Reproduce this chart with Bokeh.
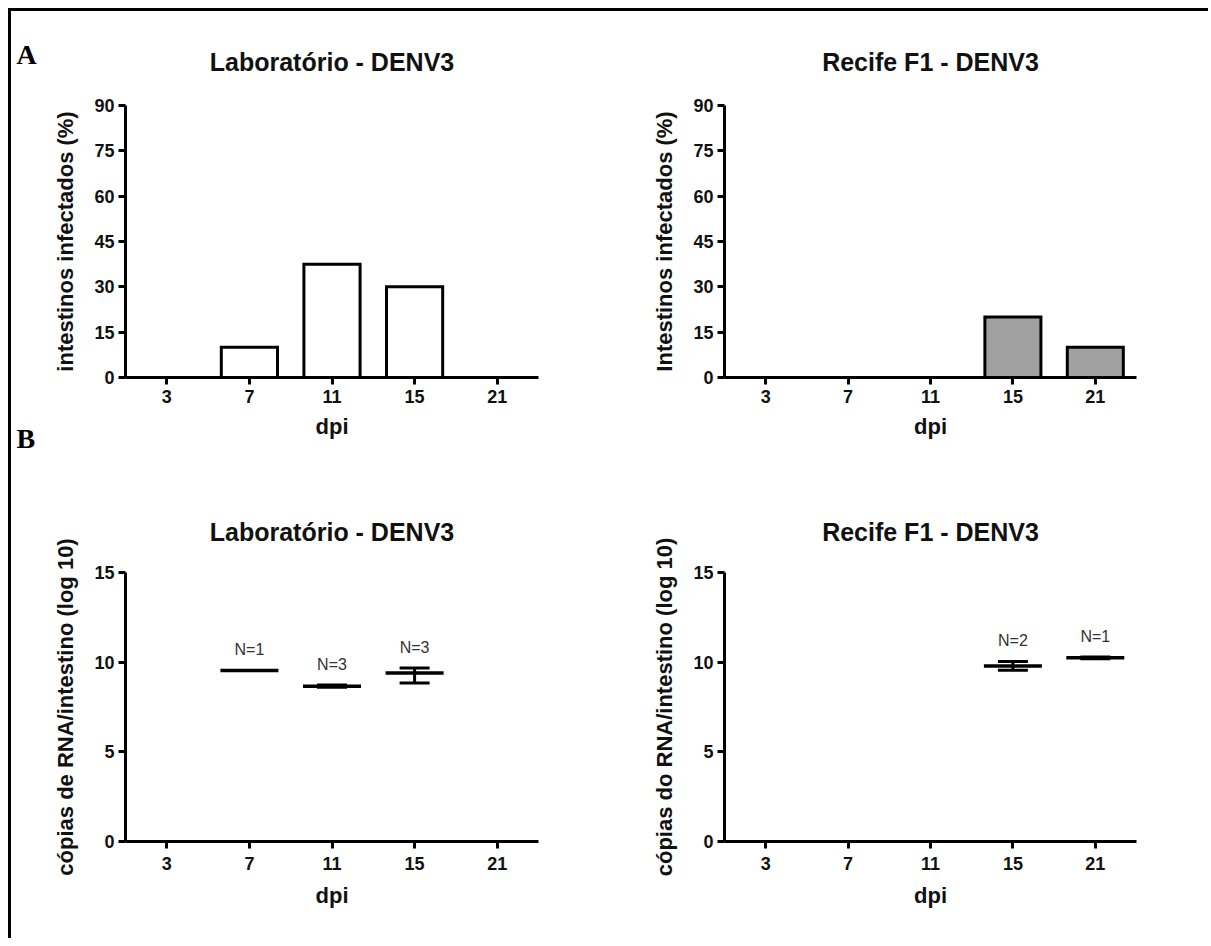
from bokeh.plotting import figure
from bokeh.models import (FactorRange, Range1d, FixedTicker, Whisker, TeeHead,
                          ColumnDataSource, Label, Spacer)
from bokeh.layouts import column, row
from bokeh.core.properties import value
from bokeh.embed import file_html
from bokeh.resources import INLINE

# ---------------- data ----------------
dpi = ["3", "7", "11", "15", "21"]

lab_title = "Laboratório - DENV3"
rec_title = "Recife F1 - DENV3"

lab_pct = [0, 10, 37.5, 30, 0]
rec_pct = [0, 0, 0, 20, 10]

lab_rna_dpi = ["7", "11", "15"]
lab_rna_mid = [9.54, 8.66, 9.40]
lab_rna_low = [9.54, 8.60, 8.84]
lab_rna_high = [9.54, 8.72, 9.68]
lab_rna_n = ["N=1", "N=3", "N=3"]

rec_rna_dpi = ["15", "21"]
rec_rna_mid = [9.79, 10.24]
rec_rna_low = [9.55, 10.19]
rec_rna_high = [10.04, 10.29]
rec_rna_n = ["N=2", "N=1"]

pct_ticks = [0, 15, 30, 45, 60, 75, 90]
rna_ticks = [0, 5, 10, 15]

panel_letters = ["A", "B"]

FONT = "Liberation Sans"
INK = "#111111"
LETTER_W = 30


def base_fig(title, ylabel, ymax, yticks, fw, fh, bl, br, bt, bb, tstand,
             xl_stand, xa_stand):
    p = figure(x_range=FactorRange(factors=dpi, range_padding=0),
               y_range=Range1d(0, ymax),
               frame_width=fw, frame_height=fh,
               min_border_left=bl, min_border_right=br,
               min_border_top=bt, min_border_bottom=bb,
               output_backend="svg", toolbar_location=None,
               background_fill_color="white", border_fill_color="white")
    p.outline_line_color = None
    p.xgrid.visible = False
    p.ygrid.visible = False
    p.title.text = title
    p.title.align = "center"
    p.title.text_font = FONT
    p.title.text_font_style = "bold"
    p.title.text_font_size = "25px"
    p.title.text_color = INK
    p.title.standoff = tstand
    p.xaxis.axis_label = "dpi"
    p.yaxis.axis_label = ylabel
    p.yaxis.ticker = FixedTicker(ticks=yticks)
    for ax in (p.xaxis[0], p.yaxis[0]):
        ax.axis_line_width = 3
        ax.axis_line_color = "black"
        ax.major_tick_line_width = 3
        ax.major_tick_line_color = "black"
        ax.major_tick_out = 7
        ax.major_tick_in = 0
        ax.minor_tick_out = 0
        ax.minor_tick_in = 0
        ax.major_label_text_font = FONT
        ax.major_label_text_font_style = "bold"
        ax.major_label_text_font_size = "18px"
        ax.major_label_text_color = INK
        ax.axis_label_text_font = FONT
        ax.axis_label_text_font_style = "bold"
        ax.axis_label_text_font_size = "22px"
        ax.axis_label_text_color = INK
    p.yaxis.major_label_standoff = 4
    p.xaxis.major_label_standoff = xl_stand
    p.xaxis.axis_label_standoff = xa_stand
    p.yaxis.axis_label_standoff = 13
    return p


def bar_fig(title, ylabel, pct, fill, fw, bl, br):
    p = base_fig(title, ylabel, 90, pct_ticks, fw, 272, bl, br, 94, 93, 60, 5, 8)
    p.vbar(x=dpi, top=pct, width=0.68, fill_color=fill,
           line_color="black", line_width=3, line_join="miter")
    return p


def rna_fig(title, ylabel, xs, mid, low, high, ns, fw, bl, br):
    p = base_fig(title, ylabel, 15, rna_ticks, fw, 269, bl, br, 102, 97, 53, 8, 10)
    src = ColumnDataSource(dict(x=xs, mid=mid, low=low, high=high, n=ns))
    p.add_layout(Whisker(base="x", upper="high", lower="low", source=src,
                         line_width=3, line_color="black",
                         upper_head=TeeHead(size=30, line_width=3, line_color="black"),
                         lower_head=TeeHead(size=30, line_width=3, line_color="black")))
    p.scatter(x="x", y="mid", source=src, marker="dash", size=58,
              line_width=3.5, line_color="black")
    p.text(x="x", y="high", text="n", source=src, text_align="center",
           text_baseline="bottom", y_offset=-12, text_font=value(FONT),
           text_font_size="16px", text_color="#333333")
    return p


p1 = bar_fig(lab_title, "intestinos infectados (%)", lab_pct, "white", 413, 114 - LETTER_W, 70)
p2 = bar_fig(rec_title, "Intestinos infectados (%)", rec_pct, "#a1a1a1", 412, 116, 67)
p3 = rna_fig(lab_title, "cópias de RNA/intestino (log 10)", lab_rna_dpi, lab_rna_mid,
             lab_rna_low, lab_rna_high, lab_rna_n, 413, 114 - LETTER_W, 70)
p4 = rna_fig(rec_title, "cópias do RNA/intestino (log 10)", rec_rna_dpi, rec_rna_mid,
             rec_rna_low, rec_rna_high, rec_rna_n, 412, 116, 67)

# narrow strip holding the panel letters (y measured from the top, in px)
letters = figure(width=LETTER_W, height=927, x_range=Range1d(0, LETTER_W),
                 y_range=Range1d(927, 0), x_axis_type=None, y_axis_type=None,
                 min_border=0, output_backend="svg", toolbar_location=None,
                 background_fill_color="white", border_fill_color="white")
letters.outline_line_color = None
letters.xgrid.visible = False
letters.ygrid.visible = False
for txt, yy in zip(panel_letters, (43, 427)):
    letters.add_layout(Label(x=5, y=yy, text=txt,
                             text_font="Liberation Serif", text_font_style="bold",
                             text_font_size="28px", text_color="black",
                             text_baseline="alphabetic", text_align="left"))

top_line = Spacer(width=1200, height=3, styles={"background-color": "black"})
left_line = Spacer(width=3, height=927, styles={"background-color": "black"})

content = column(top_line,
                 row(left_line, letters, column(row(p1, p2), row(p3, p4))))
layout = column(Spacer(width=1200, height=8),
                row(Spacer(width=8, height=930), content))

open("out.html", "w").write(file_html(layout, INLINE))
